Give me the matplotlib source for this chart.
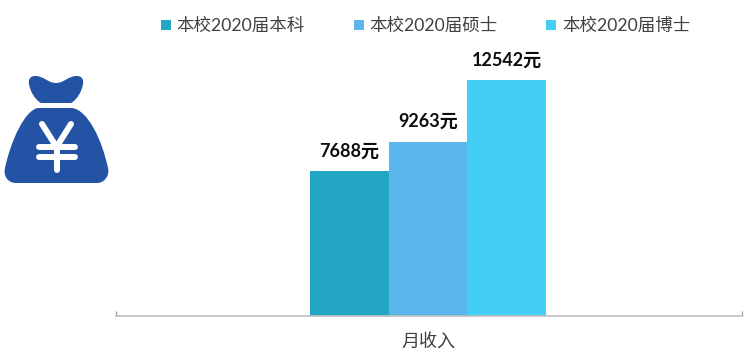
import matplotlib
matplotlib.use("Agg")
import matplotlib.pyplot as plt
from matplotlib.patches import PathPatch
from matplotlib.path import Path

plt.rcParams['font.family'] = ['Lato', 'Noto Sans CJK SC', 'DejaVu Sans']

# data
series_names = ['本校2020届本科', '本校2020届硕士', '本校2020届博士']
series_values = [7688, 9263, 12542]
series_colors = ['#23A5C4', '#5AB6EA', '#45CEF5']
category = '月收入'
unit = '元'

W, H = 750, 354
fig = plt.figure(figsize=(W / 100, H / 100), dpi=100)

# main axes: baseline at y=315.5 px, spine from x=116.5 to x=741.5
ax = fig.add_axes([116.5 / W, (H - 315.5) / H, 625 / W, 315.5 / H])
half_span = 625 / 2 / 78.5  # one bar is 78.5 px wide
center = 1 + 1 / 78.5  # bars sit 1 px left of the axis middle
ax.set_xlim(center - half_span, center + half_span)
ax.set_ylim(0, 16800)

for i, (name, val, col) in enumerate(zip(series_names, series_values, series_colors)):
    ax.bar(i, val, width=1.0, color=col, label=name, linewidth=0)
    ax.text(i, val + 620, f'{val}{unit}', ha='center', va='bottom',
            fontsize=13, fontweight='bold', color='#0D0D0D')

for s in ['top', 'left', 'right']:
    ax.spines[s].set_visible(False)
ax.spines['bottom'].set_color('#BFBFBF')
ax.spines['bottom'].set_linewidth(1.2)
ax.set_yticks([])
ax.set_xticks([center - half_span, center + half_span])
ax.set_xticklabels(['', ''])
ax.tick_params(axis='x', direction='in', length=3.4, width=1.0, color='#A6A6A6')
ax.patch.set_alpha(0)

fig.text(428.5 / W, 1 - 341 / H, category, ha='center', va='center',
         fontsize=13, color='#404040')

fig.legend(loc='upper left', bbox_to_anchor=(161 / W, 1 - 18 / H), ncol=3, frameon=False,
           fontsize=12.6, handlelength=0.57, handleheight=0.57, handletextpad=0.33,
           columnspacing=2.78, borderpad=0, borderaxespad=0, labelcolor='#404040')

# money bag icon, drawn in pixel coordinates of the reference
icon = fig.add_axes([0, 0, 1, 1])
icon.set_xlim(0, W)
icon.set_ylim(H, 0)
icon.axis('off')
icon.patch.set_alpha(0)
bag_color = '#2452A4'

C4, L, M = Path.CURVE4, Path.LINETO, Path.MOVETO
knot = Path(
    [(35, 76),
     (30, 76), (28, 80), (29, 84),
     (30, 91), (35, 100), (41, 103),
     (71, 103),
     (77, 100), (82, 91), (83, 84),
     (84, 80), (82, 76), (77, 76),
     (68, 76), (64, 83), (56, 83),
     (48, 83), (44, 76), (35, 76)],
    [M, C4, C4, C4, C4, C4, C4, L, C4, C4, C4, C4, C4, C4, C4, C4, C4, C4, C4, C4])
body = Path(
    [(38, 108), (72, 108),
     (88, 110), (102, 140), (108, 168),
     (110, 176), (104, 183), (97, 183),
     (16, 183),
     (8, 183), (3, 176), (5, 168),
     (11, 140), (25, 110), (38, 108)],
    [M, L, C4, C4, C4, C4, C4, C4, L, C4, C4, C4, C4, C4, C4])
icon.add_patch(PathPatch(knot, fc=bag_color, ec='none'))
icon.add_patch(PathPatch(body, fc=bag_color, ec='none'))

yen = dict(color='white', lw=4.3, solid_capstyle='round', solid_joinstyle='round')
icon.plot([42, 56.5, 71], [124, 147, 124], **yen)
icon.plot([56.5, 56.5], [147, 170], **yen)
icon.plot([39, 75], [147, 147], **yen)
icon.plot([39, 75], [157, 157], **yen)

fig.savefig('out.png', dpi=100)
